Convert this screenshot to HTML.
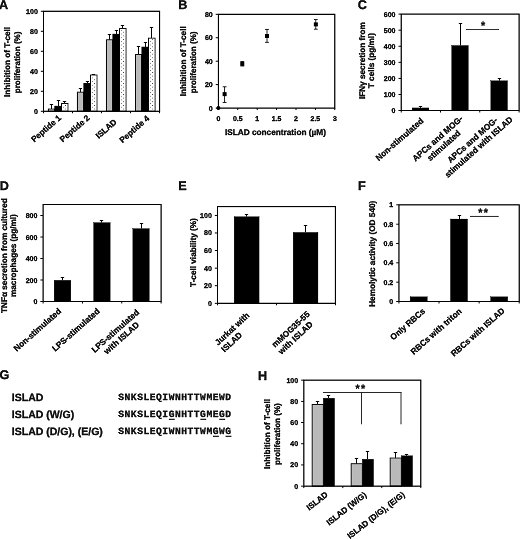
<!DOCTYPE html>
<html lang="en">
<head>
<meta charset="utf-8">
<title>Figure</title>
<style>
html,body{margin:0;padding:0;background:#fff;}
body{width:520px;height:539px;overflow:hidden;}
svg{display:block;}
svg text{font-family:"Liberation Sans",Arial,sans-serif;font-weight:bold;fill:#111;stroke:#111;stroke-width:0.35px;stroke-linejoin:round;text-rendering:geometricPrecision;}
</style>
</head>
<body>
<svg width="520" height="539" viewBox="0 0 520 539">
<defs>
<filter id="soft" x="-2%" y="-2%" width="104%" height="104%"><feConvolveMatrix order="3" kernelMatrix="0.0100 -0.1200 0.0100 -0.1200 1.4400 -0.1200 0.0100 -0.1200 0.0100" divisor="1" edgeMode="duplicate" preserveAlpha="false"/></filter>
</defs>
<rect width="520" height="539" fill="#fff"/>
<g filter="url(#soft)">
<text x="-1" y="8.8" font-size="12.6" text-anchor="start">A</text>
<line x1="51.5" y1="104" x2="51.5" y2="109" stroke="#000" stroke-width="0.9"/>
<line x1="49.8" y1="104.5" x2="53.2" y2="104.5" stroke="#000" stroke-width="0.9"/>
<rect x="48.26" y="109" width="6.58" height="2.25" fill="#b9b9b9" stroke="#000" stroke-width="0.8"/>
<line x1="58.5" y1="100" x2="58.5" y2="106.2" stroke="#000" stroke-width="0.9"/>
<line x1="56.8" y1="100.5" x2="60.2" y2="100.5" stroke="#000" stroke-width="0.9"/>
<rect x="54.84" y="106.2" width="6.58" height="5.05" fill="#000" stroke="#000" stroke-width="0.8"/>
<line x1="64.5" y1="101" x2="64.5" y2="103.3" stroke="#000" stroke-width="0.9"/>
<line x1="62.8" y1="101.5" x2="66.2" y2="101.5" stroke="#000" stroke-width="0.9"/>
<rect x="61.42" y="103.3" width="6.58" height="7.95" fill="#fff" stroke="#000" stroke-width="0.8"/>
<rect x="65.12" y="108.65" width="0.8" height="0.8" fill="#666"/>
<rect x="62.82" y="106.82" width="0.8" height="0.8" fill="#666"/>
<rect x="65.12" y="104.99" width="0.8" height="0.8" fill="#666"/>
<line x1="80.5" y1="88" x2="80.5" y2="92.1" stroke="#000" stroke-width="0.9"/>
<line x1="78.8" y1="88.5" x2="82.2" y2="88.5" stroke="#000" stroke-width="0.9"/>
<rect x="77.29" y="92.1" width="6.58" height="19.15" fill="#b9b9b9" stroke="#000" stroke-width="0.8"/>
<line x1="87.5" y1="81" x2="87.5" y2="83.5" stroke="#000" stroke-width="0.9"/>
<line x1="85.8" y1="81.5" x2="89.2" y2="81.5" stroke="#000" stroke-width="0.9"/>
<rect x="83.87" y="83.5" width="6.58" height="27.75" fill="#000" stroke="#000" stroke-width="0.8"/>
<line x1="93.5" y1="74" x2="93.5" y2="75" stroke="#000" stroke-width="0.9"/>
<line x1="91.8" y1="74.5" x2="95.2" y2="74.5" stroke="#000" stroke-width="0.9"/>
<rect x="90.45" y="75" width="6.58" height="36.25" fill="#fff" stroke="#000" stroke-width="0.8"/>
<rect x="94.15" y="108.65" width="0.8" height="0.8" fill="#666"/>
<rect x="91.85" y="106.82" width="0.8" height="0.8" fill="#666"/>
<rect x="94.15" y="104.99" width="0.8" height="0.8" fill="#666"/>
<rect x="91.85" y="103.16" width="0.8" height="0.8" fill="#666"/>
<rect x="94.15" y="101.33" width="0.8" height="0.8" fill="#666"/>
<rect x="91.85" y="99.5" width="0.8" height="0.8" fill="#666"/>
<rect x="94.15" y="97.67" width="0.8" height="0.8" fill="#666"/>
<rect x="91.85" y="95.84" width="0.8" height="0.8" fill="#666"/>
<rect x="94.15" y="94.01" width="0.8" height="0.8" fill="#666"/>
<rect x="91.85" y="92.18" width="0.8" height="0.8" fill="#666"/>
<rect x="94.15" y="90.35" width="0.8" height="0.8" fill="#666"/>
<rect x="91.85" y="88.52" width="0.8" height="0.8" fill="#666"/>
<rect x="94.15" y="86.69" width="0.8" height="0.8" fill="#666"/>
<rect x="91.85" y="84.86" width="0.8" height="0.8" fill="#666"/>
<rect x="94.15" y="83.03" width="0.8" height="0.8" fill="#666"/>
<rect x="91.85" y="81.2" width="0.8" height="0.8" fill="#666"/>
<rect x="94.15" y="79.37" width="0.8" height="0.8" fill="#666"/>
<rect x="91.85" y="77.54" width="0.8" height="0.8" fill="#666"/>
<line x1="109.5" y1="34" x2="109.5" y2="39.8" stroke="#000" stroke-width="0.9"/>
<line x1="107.8" y1="34.5" x2="111.2" y2="34.5" stroke="#000" stroke-width="0.9"/>
<rect x="106.31" y="39.8" width="6.58" height="71.45" fill="#b9b9b9" stroke="#000" stroke-width="0.8"/>
<line x1="116.5" y1="30" x2="116.5" y2="34.2" stroke="#000" stroke-width="0.9"/>
<line x1="114.8" y1="30.5" x2="118.2" y2="30.5" stroke="#000" stroke-width="0.9"/>
<rect x="112.89" y="34.2" width="6.58" height="77.05" fill="#000" stroke="#000" stroke-width="0.8"/>
<line x1="122.5" y1="25" x2="122.5" y2="28.5" stroke="#000" stroke-width="0.9"/>
<line x1="120.8" y1="25.5" x2="124.2" y2="25.5" stroke="#000" stroke-width="0.9"/>
<rect x="119.47" y="28.5" width="6.58" height="82.75" fill="#fff" stroke="#000" stroke-width="0.8"/>
<rect x="123.17" y="108.65" width="0.8" height="0.8" fill="#666"/>
<rect x="120.87" y="106.82" width="0.8" height="0.8" fill="#666"/>
<rect x="123.17" y="104.99" width="0.8" height="0.8" fill="#666"/>
<rect x="120.87" y="103.16" width="0.8" height="0.8" fill="#666"/>
<rect x="123.17" y="101.33" width="0.8" height="0.8" fill="#666"/>
<rect x="120.87" y="99.5" width="0.8" height="0.8" fill="#666"/>
<rect x="123.17" y="97.67" width="0.8" height="0.8" fill="#666"/>
<rect x="120.87" y="95.84" width="0.8" height="0.8" fill="#666"/>
<rect x="123.17" y="94.01" width="0.8" height="0.8" fill="#666"/>
<rect x="120.87" y="92.18" width="0.8" height="0.8" fill="#666"/>
<rect x="123.17" y="90.35" width="0.8" height="0.8" fill="#666"/>
<rect x="120.87" y="88.52" width="0.8" height="0.8" fill="#666"/>
<rect x="123.17" y="86.69" width="0.8" height="0.8" fill="#666"/>
<rect x="120.87" y="84.86" width="0.8" height="0.8" fill="#666"/>
<rect x="123.17" y="83.03" width="0.8" height="0.8" fill="#666"/>
<rect x="120.87" y="81.2" width="0.8" height="0.8" fill="#666"/>
<rect x="123.17" y="79.37" width="0.8" height="0.8" fill="#666"/>
<rect x="120.87" y="77.54" width="0.8" height="0.8" fill="#666"/>
<rect x="123.17" y="75.71" width="0.8" height="0.8" fill="#666"/>
<rect x="120.87" y="73.88" width="0.8" height="0.8" fill="#666"/>
<rect x="123.17" y="72.05" width="0.8" height="0.8" fill="#666"/>
<rect x="120.87" y="70.22" width="0.8" height="0.8" fill="#666"/>
<rect x="123.17" y="68.39" width="0.8" height="0.8" fill="#666"/>
<rect x="120.87" y="66.56" width="0.8" height="0.8" fill="#666"/>
<rect x="123.17" y="64.73" width="0.8" height="0.8" fill="#666"/>
<rect x="120.87" y="62.9" width="0.8" height="0.8" fill="#666"/>
<rect x="123.17" y="61.07" width="0.8" height="0.8" fill="#666"/>
<rect x="120.87" y="59.24" width="0.8" height="0.8" fill="#666"/>
<rect x="123.17" y="57.41" width="0.8" height="0.8" fill="#666"/>
<rect x="120.87" y="55.58" width="0.8" height="0.8" fill="#666"/>
<rect x="123.17" y="53.75" width="0.8" height="0.8" fill="#666"/>
<rect x="120.87" y="51.92" width="0.8" height="0.8" fill="#666"/>
<rect x="123.17" y="50.09" width="0.8" height="0.8" fill="#666"/>
<rect x="120.87" y="48.26" width="0.8" height="0.8" fill="#666"/>
<rect x="123.17" y="46.43" width="0.8" height="0.8" fill="#666"/>
<rect x="120.87" y="44.6" width="0.8" height="0.8" fill="#666"/>
<rect x="123.17" y="42.77" width="0.8" height="0.8" fill="#666"/>
<rect x="120.87" y="40.94" width="0.8" height="0.8" fill="#666"/>
<rect x="123.17" y="39.11" width="0.8" height="0.8" fill="#666"/>
<rect x="120.87" y="37.28" width="0.8" height="0.8" fill="#666"/>
<rect x="123.17" y="35.45" width="0.8" height="0.8" fill="#666"/>
<rect x="120.87" y="33.62" width="0.8" height="0.8" fill="#666"/>
<rect x="123.17" y="31.79" width="0.8" height="0.8" fill="#666"/>
<rect x="120.87" y="29.96" width="0.8" height="0.8" fill="#666"/>
<line x1="138.5" y1="46" x2="138.5" y2="54.4" stroke="#000" stroke-width="0.9"/>
<line x1="136.8" y1="46.5" x2="140.2" y2="46.5" stroke="#000" stroke-width="0.9"/>
<rect x="135.34" y="54.4" width="6.58" height="56.85" fill="#b9b9b9" stroke="#000" stroke-width="0.8"/>
<line x1="145.5" y1="42" x2="145.5" y2="47.1" stroke="#000" stroke-width="0.9"/>
<line x1="143.8" y1="42.5" x2="147.2" y2="42.5" stroke="#000" stroke-width="0.9"/>
<rect x="141.92" y="47.1" width="6.58" height="64.15" fill="#000" stroke="#000" stroke-width="0.8"/>
<line x1="151.5" y1="27" x2="151.5" y2="38.1" stroke="#000" stroke-width="0.9"/>
<line x1="149.8" y1="27.5" x2="153.2" y2="27.5" stroke="#000" stroke-width="0.9"/>
<rect x="148.5" y="38.1" width="6.58" height="73.15" fill="#fff" stroke="#000" stroke-width="0.8"/>
<rect x="152.2" y="108.65" width="0.8" height="0.8" fill="#666"/>
<rect x="149.9" y="106.82" width="0.8" height="0.8" fill="#666"/>
<rect x="152.2" y="104.99" width="0.8" height="0.8" fill="#666"/>
<rect x="149.9" y="103.16" width="0.8" height="0.8" fill="#666"/>
<rect x="152.2" y="101.33" width="0.8" height="0.8" fill="#666"/>
<rect x="149.9" y="99.5" width="0.8" height="0.8" fill="#666"/>
<rect x="152.2" y="97.67" width="0.8" height="0.8" fill="#666"/>
<rect x="149.9" y="95.84" width="0.8" height="0.8" fill="#666"/>
<rect x="152.2" y="94.01" width="0.8" height="0.8" fill="#666"/>
<rect x="149.9" y="92.18" width="0.8" height="0.8" fill="#666"/>
<rect x="152.2" y="90.35" width="0.8" height="0.8" fill="#666"/>
<rect x="149.9" y="88.52" width="0.8" height="0.8" fill="#666"/>
<rect x="152.2" y="86.69" width="0.8" height="0.8" fill="#666"/>
<rect x="149.9" y="84.86" width="0.8" height="0.8" fill="#666"/>
<rect x="152.2" y="83.03" width="0.8" height="0.8" fill="#666"/>
<rect x="149.9" y="81.2" width="0.8" height="0.8" fill="#666"/>
<rect x="152.2" y="79.37" width="0.8" height="0.8" fill="#666"/>
<rect x="149.9" y="77.54" width="0.8" height="0.8" fill="#666"/>
<rect x="152.2" y="75.71" width="0.8" height="0.8" fill="#666"/>
<rect x="149.9" y="73.88" width="0.8" height="0.8" fill="#666"/>
<rect x="152.2" y="72.05" width="0.8" height="0.8" fill="#666"/>
<rect x="149.9" y="70.22" width="0.8" height="0.8" fill="#666"/>
<rect x="152.2" y="68.39" width="0.8" height="0.8" fill="#666"/>
<rect x="149.9" y="66.56" width="0.8" height="0.8" fill="#666"/>
<rect x="152.2" y="64.73" width="0.8" height="0.8" fill="#666"/>
<rect x="149.9" y="62.9" width="0.8" height="0.8" fill="#666"/>
<rect x="152.2" y="61.07" width="0.8" height="0.8" fill="#666"/>
<rect x="149.9" y="59.24" width="0.8" height="0.8" fill="#666"/>
<rect x="152.2" y="57.41" width="0.8" height="0.8" fill="#666"/>
<rect x="149.9" y="55.58" width="0.8" height="0.8" fill="#666"/>
<rect x="152.2" y="53.75" width="0.8" height="0.8" fill="#666"/>
<rect x="149.9" y="51.92" width="0.8" height="0.8" fill="#666"/>
<rect x="152.2" y="50.09" width="0.8" height="0.8" fill="#666"/>
<rect x="149.9" y="48.26" width="0.8" height="0.8" fill="#666"/>
<rect x="152.2" y="46.43" width="0.8" height="0.8" fill="#666"/>
<rect x="149.9" y="44.6" width="0.8" height="0.8" fill="#666"/>
<rect x="152.2" y="42.77" width="0.8" height="0.8" fill="#666"/>
<rect x="149.9" y="40.94" width="0.8" height="0.8" fill="#666"/>
<rect x="152.2" y="39.11" width="0.8" height="0.8" fill="#666"/>
<rect x="43.5" y="11.25" width="116.1" height="100" fill="none" stroke="#000" stroke-width="1.15"/>
<line x1="40.8" y1="111.25" x2="43.5" y2="111.25" stroke="#000" stroke-width="0.9"/>
<text x="37.8" y="113.76" font-size="7" text-anchor="end">0</text>
<line x1="40.8" y1="91.25" x2="43.5" y2="91.25" stroke="#000" stroke-width="0.9"/>
<text x="37.8" y="93.76" font-size="7" text-anchor="end">20</text>
<line x1="40.8" y1="71.25" x2="43.5" y2="71.25" stroke="#000" stroke-width="0.9"/>
<text x="37.8" y="73.76" font-size="7" text-anchor="end">40</text>
<line x1="40.8" y1="51.25" x2="43.5" y2="51.25" stroke="#000" stroke-width="0.9"/>
<text x="37.8" y="53.76" font-size="7" text-anchor="end">60</text>
<line x1="40.8" y1="31.25" x2="43.5" y2="31.25" stroke="#000" stroke-width="0.9"/>
<text x="37.8" y="33.76" font-size="7" text-anchor="end">80</text>
<line x1="40.8" y1="11.25" x2="43.5" y2="11.25" stroke="#000" stroke-width="0.9"/>
<text x="37.8" y="13.76" font-size="7" text-anchor="end">100</text>
<line x1="43.5" y1="111.25" x2="43.5" y2="113.25" stroke="#000" stroke-width="0.9"/>
<line x1="72.53" y1="111.25" x2="72.53" y2="113.25" stroke="#000" stroke-width="0.9"/>
<line x1="101.55" y1="111.25" x2="101.55" y2="113.25" stroke="#000" stroke-width="0.9"/>
<line x1="130.57" y1="111.25" x2="130.57" y2="113.25" stroke="#000" stroke-width="0.9"/>
<line x1="159.6" y1="111.25" x2="159.6" y2="113.25" stroke="#000" stroke-width="0.9"/>
<text x="10.4" y="61.9" font-size="8.2" text-anchor="middle" transform="rotate(-90 10.4 61.9)">Inhibition of T-cell</text>
<text x="20" y="62.4" font-size="8.05" text-anchor="middle" transform="rotate(-90 20 62.4)">proliferation (%)</text>
<text x="47.91" y="130.6" font-size="8.2" text-anchor="middle" transform="rotate(-41 47.91 130.6)">Peptide 1</text>
<text x="76.54" y="130.6" font-size="8.2" text-anchor="middle" transform="rotate(-41 76.54 130.6)">Peptide 2</text>
<text x="107.96" y="130.9" font-size="8.2" text-anchor="middle" transform="rotate(-41 107.96 130.9)">ISLAD</text>
<text x="136.19" y="131.3" font-size="8.2" text-anchor="middle" transform="rotate(-41 136.19 131.3)">Peptide 4</text>
<text x="178.35" y="8.9" font-size="12.6" text-anchor="start">B</text>
<rect x="218.4" y="14.3" width="116.4" height="93.8" fill="none" stroke="#000" stroke-width="1.15"/>
<line x1="215.7" y1="108.1" x2="218.4" y2="108.1" stroke="#000" stroke-width="0.9"/>
<text x="212.7" y="110.61" font-size="7" text-anchor="end">0</text>
<line x1="215.7" y1="84.65" x2="218.4" y2="84.65" stroke="#000" stroke-width="0.9"/>
<text x="212.7" y="87.16" font-size="7" text-anchor="end">20</text>
<line x1="215.7" y1="61.2" x2="218.4" y2="61.2" stroke="#000" stroke-width="0.9"/>
<text x="212.7" y="63.71" font-size="7" text-anchor="end">40</text>
<line x1="215.7" y1="37.75" x2="218.4" y2="37.75" stroke="#000" stroke-width="0.9"/>
<text x="212.7" y="40.26" font-size="7" text-anchor="end">60</text>
<line x1="215.7" y1="14.3" x2="218.4" y2="14.3" stroke="#000" stroke-width="0.9"/>
<text x="212.7" y="16.81" font-size="7" text-anchor="end">80</text>
<line x1="218.4" y1="108.1" x2="218.4" y2="110.1" stroke="#000" stroke-width="0.9"/>
<line x1="237.8" y1="108.1" x2="237.8" y2="110.1" stroke="#000" stroke-width="0.9"/>
<line x1="257.2" y1="108.1" x2="257.2" y2="110.1" stroke="#000" stroke-width="0.9"/>
<line x1="276.6" y1="108.1" x2="276.6" y2="110.1" stroke="#000" stroke-width="0.9"/>
<line x1="296" y1="108.1" x2="296" y2="110.1" stroke="#000" stroke-width="0.9"/>
<line x1="315.4" y1="108.1" x2="315.4" y2="110.1" stroke="#000" stroke-width="0.9"/>
<line x1="334.8" y1="108.1" x2="334.8" y2="110.1" stroke="#000" stroke-width="0.9"/>
<text x="218.4" y="121.1" font-size="6.9" text-anchor="middle">0</text>
<text x="237.8" y="121.1" font-size="6.9" text-anchor="middle">0.5</text>
<text x="257.2" y="121.1" font-size="6.9" text-anchor="middle">1</text>
<text x="276.6" y="121.1" font-size="6.9" text-anchor="middle">1.5</text>
<text x="296" y="121.1" font-size="6.9" text-anchor="middle">2</text>
<text x="315.4" y="121.1" font-size="6.9" text-anchor="middle">2.5</text>
<text x="334.8" y="121.1" font-size="6.9" text-anchor="middle">3</text>
<text x="275.4" y="135.2" font-size="8.25" text-anchor="middle">ISLAD concentration (µM)</text>
<text x="186.2" y="61.3" font-size="8.2" text-anchor="middle" transform="rotate(-90 186.2 61.3)">Inhibition of T-cell</text>
<text x="196.2" y="62.3" font-size="8.05" text-anchor="middle" transform="rotate(-90 196.2 62.3)">proliferation (%)</text>
<line x1="224.6" y1="86.8" x2="224.6" y2="102.4" stroke="#000" stroke-width="0.8"/>
<line x1="222.7" y1="86.8" x2="226.5" y2="86.8" stroke="#000" stroke-width="0.8"/>
<line x1="222.7" y1="102.4" x2="226.5" y2="102.4" stroke="#000" stroke-width="0.8"/>
<rect x="222.6" y="92.2" width="4" height="4" fill="#000"/>
<line x1="242.3" y1="61.6" x2="242.3" y2="66" stroke="#000" stroke-width="0.8"/>
<line x1="240.4" y1="61.6" x2="244.2" y2="61.6" stroke="#000" stroke-width="0.8"/>
<line x1="240.4" y1="66" x2="244.2" y2="66" stroke="#000" stroke-width="0.8"/>
<rect x="240.3" y="61.8" width="4" height="4" fill="#000"/>
<line x1="267" y1="29.4" x2="267" y2="42.3" stroke="#000" stroke-width="0.8"/>
<line x1="265.1" y1="29.4" x2="268.9" y2="29.4" stroke="#000" stroke-width="0.8"/>
<line x1="265.1" y1="42.3" x2="268.9" y2="42.3" stroke="#000" stroke-width="0.8"/>
<rect x="265" y="34" width="4" height="4" fill="#000"/>
<line x1="315.8" y1="19.6" x2="315.8" y2="29.2" stroke="#000" stroke-width="0.8"/>
<line x1="313.9" y1="19.6" x2="317.7" y2="19.6" stroke="#000" stroke-width="0.8"/>
<line x1="313.9" y1="29.2" x2="317.7" y2="29.2" stroke="#000" stroke-width="0.8"/>
<rect x="313.8" y="22.4" width="4" height="4" fill="#000"/>
<circle cx="218.4" cy="108.1" r="2" fill="#000"/>
<text x="357.7" y="8.9" font-size="12.6" text-anchor="start">C</text>
<line x1="420.5" y1="106" x2="420.5" y2="107.9" stroke="#000" stroke-width="0.9"/>
<line x1="418.8" y1="106.5" x2="422.2" y2="106.5" stroke="#000" stroke-width="0.9"/>
<rect x="412.2" y="107.9" width="16.7" height="2.6" fill="#000" stroke="#000" stroke-width="0.3"/>
<line x1="460.5" y1="23" x2="460.5" y2="45.5" stroke="#000" stroke-width="0.9"/>
<line x1="458.8" y1="23.5" x2="462.2" y2="23.5" stroke="#000" stroke-width="0.9"/>
<rect x="451.65" y="45.5" width="16.7" height="65" fill="#000" stroke="#000" stroke-width="0.3"/>
<line x1="499.5" y1="78" x2="499.5" y2="80.75" stroke="#000" stroke-width="0.9"/>
<line x1="497.8" y1="78.5" x2="501.2" y2="78.5" stroke="#000" stroke-width="0.9"/>
<rect x="490.75" y="80.75" width="16.75" height="29.75" fill="#000" stroke="#000" stroke-width="0.3"/>
<rect x="401.2" y="14.1" width="117.9" height="96.4" fill="none" stroke="#000" stroke-width="1.15"/>
<line x1="398.5" y1="110.5" x2="401.2" y2="110.5" stroke="#000" stroke-width="0.9"/>
<text x="395.5" y="113.01" font-size="7" text-anchor="end">0</text>
<line x1="398.5" y1="94.43" x2="401.2" y2="94.43" stroke="#000" stroke-width="0.9"/>
<text x="395.5" y="96.94" font-size="7" text-anchor="end">100</text>
<line x1="398.5" y1="78.37" x2="401.2" y2="78.37" stroke="#000" stroke-width="0.9"/>
<text x="395.5" y="80.87" font-size="7" text-anchor="end">200</text>
<line x1="398.5" y1="62.3" x2="401.2" y2="62.3" stroke="#000" stroke-width="0.9"/>
<text x="395.5" y="64.8" font-size="7" text-anchor="end">300</text>
<line x1="398.5" y1="46.23" x2="401.2" y2="46.23" stroke="#000" stroke-width="0.9"/>
<text x="395.5" y="48.74" font-size="7" text-anchor="end">400</text>
<line x1="398.5" y1="30.16" x2="401.2" y2="30.16" stroke="#000" stroke-width="0.9"/>
<text x="395.5" y="32.67" font-size="7" text-anchor="end">500</text>
<line x1="398.5" y1="14.1" x2="401.2" y2="14.1" stroke="#000" stroke-width="0.9"/>
<text x="395.5" y="16.6" font-size="7" text-anchor="end">600</text>
<line x1="401.2" y1="110.5" x2="401.2" y2="112.5" stroke="#000" stroke-width="0.9"/>
<line x1="440.5" y1="110.5" x2="440.5" y2="112.5" stroke="#000" stroke-width="0.9"/>
<line x1="479.8" y1="110.5" x2="479.8" y2="112.5" stroke="#000" stroke-width="0.9"/>
<line x1="519.1" y1="110.5" x2="519.1" y2="112.5" stroke="#000" stroke-width="0.9"/>
<line x1="466" y1="29.45" x2="499" y2="29.45" stroke="#222" stroke-width="0.85"/>
<text x="483" y="28.5" font-size="10.6" text-anchor="middle">*</text>
<text x="365.1" y="60.65" font-size="8.2" text-anchor="middle" transform="rotate(-90 365.1 60.65)">IFNγ secretion from</text>
<text x="374.45" y="60.65" font-size="8.2" text-anchor="middle" transform="rotate(-90 374.45 60.65)">T cells (pg/ml)</text>
<text x="424" y="121.8" font-size="8.25" text-anchor="end" transform="rotate(-41 424 121.8)">Non-stimulated</text>
<g transform="rotate(-41.5 442.6 144.1)">
<text x="442.6" y="139.4" font-size="8.25" text-anchor="middle">APCs and MOG-</text>
<text x="442.6" y="148.8" font-size="8.25" text-anchor="middle">stimulated</text>
</g>
<g transform="rotate(-41.5 477.4 145.6)">
<text x="477.4" y="140.9" font-size="8.25" text-anchor="middle">APCs and MOG-</text>
<text x="477.4" y="150.3" font-size="8.25" text-anchor="middle">stimulated with ISLAD</text>
</g>
<text x="-0.3" y="189.6" font-size="12.6" text-anchor="start">D</text>
<line x1="62.5" y1="277" x2="62.5" y2="280.3" stroke="#000" stroke-width="0.9"/>
<line x1="60.8" y1="277.5" x2="64.2" y2="277.5" stroke="#000" stroke-width="0.9"/>
<rect x="54.2" y="280.3" width="16.6" height="21.2" fill="#000" stroke="#000" stroke-width="0.3"/>
<line x1="101.5" y1="220" x2="101.5" y2="222.6" stroke="#000" stroke-width="0.9"/>
<line x1="99.8" y1="220.5" x2="103.2" y2="220.5" stroke="#000" stroke-width="0.9"/>
<rect x="93.6" y="222.6" width="16.6" height="78.9" fill="#000" stroke="#000" stroke-width="0.3"/>
<line x1="141.5" y1="223" x2="141.5" y2="228.6" stroke="#000" stroke-width="0.9"/>
<line x1="139.8" y1="223.5" x2="143.2" y2="223.5" stroke="#000" stroke-width="0.9"/>
<rect x="132.8" y="228.6" width="16.5" height="72.9" fill="#000" stroke="#000" stroke-width="0.3"/>
<rect x="43.1" y="204.5" width="118" height="97" fill="none" stroke="#000" stroke-width="1.15"/>
<line x1="40.4" y1="301.5" x2="43.1" y2="301.5" stroke="#000" stroke-width="0.9"/>
<text x="37.4" y="304.01" font-size="7" text-anchor="end">0</text>
<line x1="40.4" y1="280" x2="43.1" y2="280" stroke="#000" stroke-width="0.9"/>
<text x="37.4" y="282.51" font-size="7" text-anchor="end">200</text>
<line x1="40.4" y1="258.5" x2="43.1" y2="258.5" stroke="#000" stroke-width="0.9"/>
<text x="37.4" y="261.01" font-size="7" text-anchor="end">400</text>
<line x1="40.4" y1="237" x2="43.1" y2="237" stroke="#000" stroke-width="0.9"/>
<text x="37.4" y="239.51" font-size="7" text-anchor="end">600</text>
<line x1="40.4" y1="215.5" x2="43.1" y2="215.5" stroke="#000" stroke-width="0.9"/>
<text x="37.4" y="218.01" font-size="7" text-anchor="end">800</text>
<line x1="43.1" y1="301.5" x2="43.1" y2="303.5" stroke="#000" stroke-width="0.9"/>
<line x1="82.43" y1="301.5" x2="82.43" y2="303.5" stroke="#000" stroke-width="0.9"/>
<line x1="121.77" y1="301.5" x2="121.77" y2="303.5" stroke="#000" stroke-width="0.9"/>
<line x1="161.1" y1="301.5" x2="161.1" y2="303.5" stroke="#000" stroke-width="0.9"/>
<text x="7" y="255.6" font-size="8.2" text-anchor="middle" transform="rotate(-90 7 255.6)">TNFα secretion from cultured</text>
<text x="16.4" y="255.6" font-size="8.2" text-anchor="middle" transform="rotate(-90 16.4 255.6)">macrophages (pg/ml)</text>
<text x="61.8" y="312" font-size="8.25" text-anchor="end" transform="rotate(-41.5 61.8 312)">Non-stimulated</text>
<text x="100.3" y="312" font-size="8.25" text-anchor="end" transform="rotate(-41.5 100.3 312)">LPS-stimulated</text>
<g transform="rotate(-41.5 120.3 336.5)">
<text x="120.3" y="331.8" font-size="8.25" text-anchor="middle">LPS-stimulated</text>
<text x="120.3" y="341.2" font-size="8.25" text-anchor="middle">with ISLAD</text>
</g>
<text x="178.3" y="189.5" font-size="12.6" text-anchor="start">E</text>
<line x1="246.5" y1="214" x2="246.5" y2="216.7" stroke="#000" stroke-width="0.9"/>
<line x1="244.8" y1="214.5" x2="248.2" y2="214.5" stroke="#000" stroke-width="0.9"/>
<rect x="234.2" y="216.7" width="24.9" height="86.6" fill="#000" stroke="#000" stroke-width="0.3"/>
<line x1="305.5" y1="225" x2="305.5" y2="232.4" stroke="#000" stroke-width="0.9"/>
<line x1="303.8" y1="225.5" x2="307.2" y2="225.5" stroke="#000" stroke-width="0.9"/>
<rect x="293.2" y="232.4" width="24.8" height="70.9" fill="#000" stroke="#000" stroke-width="0.3"/>
<rect x="217.5" y="206.6" width="117.9" height="96.7" fill="none" stroke="#000" stroke-width="1.15"/>
<line x1="214.8" y1="303.3" x2="217.5" y2="303.3" stroke="#000" stroke-width="0.9"/>
<text x="211.8" y="305.81" font-size="7" text-anchor="end">0</text>
<line x1="214.8" y1="285.72" x2="217.5" y2="285.72" stroke="#000" stroke-width="0.9"/>
<text x="211.8" y="288.23" font-size="7" text-anchor="end">20</text>
<line x1="214.8" y1="268.14" x2="217.5" y2="268.14" stroke="#000" stroke-width="0.9"/>
<text x="211.8" y="270.65" font-size="7" text-anchor="end">40</text>
<line x1="214.8" y1="250.56" x2="217.5" y2="250.56" stroke="#000" stroke-width="0.9"/>
<text x="211.8" y="253.07" font-size="7" text-anchor="end">60</text>
<line x1="214.8" y1="232.98" x2="217.5" y2="232.98" stroke="#000" stroke-width="0.9"/>
<text x="211.8" y="235.49" font-size="7" text-anchor="end">80</text>
<line x1="214.8" y1="215.4" x2="217.5" y2="215.4" stroke="#000" stroke-width="0.9"/>
<text x="211.8" y="217.91" font-size="7" text-anchor="end">100</text>
<line x1="217.5" y1="303.3" x2="217.5" y2="305.3" stroke="#000" stroke-width="0.9"/>
<line x1="276.45" y1="303.3" x2="276.45" y2="305.3" stroke="#000" stroke-width="0.9"/>
<line x1="335.4" y1="303.3" x2="335.4" y2="305.3" stroke="#000" stroke-width="0.9"/>
<text x="195.7" y="252.55" font-size="8.2" text-anchor="middle" transform="rotate(-90 195.7 252.55)">T-cell viability (%)</text>
<g transform="rotate(-43 237.3 334.3)">
<text x="215.5" y="329.6" font-size="8.25" text-anchor="start">Jurkat with</text>
<text x="215.5" y="339" font-size="8.25" text-anchor="start">ISLAD</text>
</g>
<g transform="rotate(-43 294 336.6)">
<text x="272.5" y="331.9" font-size="8.25" text-anchor="start">mMOG35-55</text>
<text x="272.5" y="341.3" font-size="8.25" text-anchor="start">with ISLAD</text>
</g>
<text x="357.9" y="189.6" font-size="12.6" text-anchor="start">F</text>
<rect x="410.2" y="296.8" width="17.1" height="4.7" fill="#000" stroke="#000" stroke-width="0.3"/>
<line x1="459.5" y1="215" x2="459.5" y2="219" stroke="#000" stroke-width="0.9"/>
<line x1="457.8" y1="215.5" x2="461.2" y2="215.5" stroke="#000" stroke-width="0.9"/>
<rect x="450.45" y="219" width="17.1" height="82.5" fill="#000" stroke="#000" stroke-width="0.3"/>
<rect x="490.6" y="296.8" width="17.1" height="4.7" fill="#000" stroke="#000" stroke-width="0.3"/>
<rect x="398.95" y="204.85" width="120.25" height="96.65" fill="none" stroke="#000" stroke-width="1.15"/>
<line x1="396.25" y1="301.5" x2="398.95" y2="301.5" stroke="#000" stroke-width="0.9"/>
<text x="393.25" y="304.01" font-size="7" text-anchor="end">0</text>
<line x1="396.25" y1="282.17" x2="398.95" y2="282.17" stroke="#000" stroke-width="0.9"/>
<text x="393.25" y="284.68" font-size="7" text-anchor="end">0.2</text>
<line x1="396.25" y1="262.84" x2="398.95" y2="262.84" stroke="#000" stroke-width="0.9"/>
<text x="393.25" y="265.35" font-size="7" text-anchor="end">0.4</text>
<line x1="396.25" y1="243.51" x2="398.95" y2="243.51" stroke="#000" stroke-width="0.9"/>
<text x="393.25" y="246.02" font-size="7" text-anchor="end">0.6</text>
<line x1="396.25" y1="224.18" x2="398.95" y2="224.18" stroke="#000" stroke-width="0.9"/>
<text x="393.25" y="226.69" font-size="7" text-anchor="end">0.8</text>
<line x1="396.25" y1="204.85" x2="398.95" y2="204.85" stroke="#000" stroke-width="0.9"/>
<text x="393.25" y="207.36" font-size="7" text-anchor="end">1</text>
<line x1="398.95" y1="301.5" x2="398.95" y2="303.5" stroke="#000" stroke-width="0.9"/>
<line x1="439.03" y1="301.5" x2="439.03" y2="303.5" stroke="#000" stroke-width="0.9"/>
<line x1="479.12" y1="301.5" x2="479.12" y2="303.5" stroke="#000" stroke-width="0.9"/>
<line x1="519.2" y1="301.5" x2="519.2" y2="303.5" stroke="#000" stroke-width="0.9"/>
<line x1="470" y1="216.4" x2="498.7" y2="216.4" stroke="#222" stroke-width="0.9"/>
<text x="483.7" y="215.8" font-size="10.6" text-anchor="middle" letter-spacing="1.4">**</text>
<text x="375.4" y="253.75" font-size="8.24" text-anchor="middle" transform="rotate(-90 375.4 253.75)">Hemolytic activity (OD 540)</text>
<text x="425.6" y="312" font-size="8.25" text-anchor="end" transform="rotate(-41.5 425.6 312)">Only RBCs</text>
<text x="462.2" y="312.1" font-size="8.25" text-anchor="end" transform="rotate(-41.5 462.2 312.1)">RBCs with triton</text>
<text x="505.2" y="311.6" font-size="8.25" text-anchor="end" transform="rotate(-41.5 505.2 311.6)">RBCs with ISLAD</text>
<text x="-0.5" y="379.3" font-size="12.6" text-anchor="start">G</text>
<text x="11.8" y="400.75" font-size="10.5" text-anchor="start">ISLAD</text>
<text x="11.8" y="417.5" font-size="10.5" text-anchor="start">ISLAD (W/G)</text>
<text x="11.8" y="434.5" font-size="10.5" text-anchor="start">ISLAD (D/G), (E/G)</text>
<text x="118.25" y="400" font-size="9.6" text-anchor="start" style='font-family:"Liberation Mono", monospace' letter-spacing="0.54">SNKSLEQIWNHTTWMEWD</text>
<text x="118.25" y="416.75" font-size="9.6" text-anchor="start" style='font-family:"Liberation Mono", monospace' letter-spacing="0.54">SNKSLEQIGNHTTGMEGD</text>
<text x="118.25" y="433.75" font-size="9.6" text-anchor="start" style='font-family:"Liberation Mono", monospace' letter-spacing="0.54">SNKSLEQIWNHTTWMGWG</text>
<line x1="168.85" y1="419.25" x2="174.75" y2="419.25" stroke="#000" stroke-width="1.0"/>
<line x1="200.35" y1="419.25" x2="206.25" y2="419.25" stroke="#000" stroke-width="1.0"/>
<line x1="219.25" y1="419.25" x2="225.15" y2="419.25" stroke="#000" stroke-width="1.0"/>
<line x1="212.95" y1="436.25" x2="218.85" y2="436.25" stroke="#000" stroke-width="1.0"/>
<line x1="225.55" y1="436.25" x2="231.45" y2="436.25" stroke="#000" stroke-width="1.0"/>
<text x="258.1" y="379.6" font-size="12.6" text-anchor="start">H</text>
<line x1="317.5" y1="401" x2="317.5" y2="404.5" stroke="#000" stroke-width="0.9"/>
<line x1="315.8" y1="401.5" x2="319.2" y2="401.5" stroke="#000" stroke-width="0.9"/>
<line x1="328.5" y1="395" x2="328.5" y2="398.25" stroke="#000" stroke-width="0.9"/>
<line x1="326.8" y1="395.5" x2="330.2" y2="395.5" stroke="#000" stroke-width="0.9"/>
<rect x="312.1" y="404.5" width="11.2" height="81.65" fill="#b9b9b9" stroke="#000" stroke-width="0.8"/>
<rect x="323.3" y="398.25" width="11.3" height="87.9" fill="#000" stroke="#000" stroke-width="0.3"/>
<line x1="356.5" y1="458" x2="356.5" y2="463.75" stroke="#000" stroke-width="0.9"/>
<line x1="354.8" y1="458.5" x2="358.2" y2="458.5" stroke="#000" stroke-width="0.9"/>
<line x1="367.5" y1="451" x2="367.5" y2="459.25" stroke="#000" stroke-width="0.9"/>
<line x1="365.8" y1="451.5" x2="369.2" y2="451.5" stroke="#000" stroke-width="0.9"/>
<rect x="351.1" y="463.75" width="11.2" height="22.4" fill="#b9b9b9" stroke="#000" stroke-width="0.8"/>
<rect x="362.3" y="459.25" width="11.3" height="26.9" fill="#000" stroke="#000" stroke-width="0.3"/>
<line x1="395.5" y1="452" x2="395.5" y2="458" stroke="#000" stroke-width="0.9"/>
<line x1="393.8" y1="452.5" x2="397.2" y2="452.5" stroke="#000" stroke-width="0.9"/>
<line x1="406.5" y1="454" x2="406.5" y2="455.75" stroke="#000" stroke-width="0.9"/>
<line x1="404.8" y1="454.5" x2="408.2" y2="454.5" stroke="#000" stroke-width="0.9"/>
<rect x="390.1" y="458" width="11.2" height="28.15" fill="#b9b9b9" stroke="#000" stroke-width="0.8"/>
<rect x="401.3" y="455.75" width="11.3" height="30.4" fill="#000" stroke="#000" stroke-width="0.3"/>
<rect x="303.85" y="380.15" width="116.95" height="106" fill="none" stroke="#000" stroke-width="1.15"/>
<line x1="301.15" y1="486.15" x2="303.85" y2="486.15" stroke="#000" stroke-width="0.9"/>
<text x="298.15" y="488.66" font-size="7" text-anchor="end">0</text>
<line x1="301.15" y1="464.95" x2="303.85" y2="464.95" stroke="#000" stroke-width="0.9"/>
<text x="298.15" y="467.46" font-size="7" text-anchor="end">20</text>
<line x1="301.15" y1="443.75" x2="303.85" y2="443.75" stroke="#000" stroke-width="0.9"/>
<text x="298.15" y="446.26" font-size="7" text-anchor="end">40</text>
<line x1="301.15" y1="422.55" x2="303.85" y2="422.55" stroke="#000" stroke-width="0.9"/>
<text x="298.15" y="425.06" font-size="7" text-anchor="end">60</text>
<line x1="301.15" y1="401.35" x2="303.85" y2="401.35" stroke="#000" stroke-width="0.9"/>
<text x="298.15" y="403.86" font-size="7" text-anchor="end">80</text>
<line x1="301.15" y1="380.15" x2="303.85" y2="380.15" stroke="#000" stroke-width="0.9"/>
<text x="298.15" y="382.66" font-size="7" text-anchor="end">100</text>
<line x1="303.85" y1="486.15" x2="303.85" y2="488.15" stroke="#000" stroke-width="0.9"/>
<line x1="342.83" y1="486.15" x2="342.83" y2="488.15" stroke="#000" stroke-width="0.9"/>
<line x1="381.82" y1="486.15" x2="381.82" y2="488.15" stroke="#000" stroke-width="0.9"/>
<line x1="420.8" y1="486.15" x2="420.8" y2="488.15" stroke="#000" stroke-width="0.9"/>
<line x1="322.9" y1="392.5" x2="401.5" y2="392.5" stroke="#222" stroke-width="0.9"/>
<line x1="361.5" y1="392.5" x2="361.5" y2="424.3" stroke="#222" stroke-width="0.9"/>
<line x1="401" y1="392.5" x2="401" y2="424.3" stroke="#222" stroke-width="0.9"/>
<text x="360.9" y="392.1" font-size="10.6" text-anchor="middle" letter-spacing="1.4">**</text>
<text x="270" y="434.05" font-size="8.2" text-anchor="middle" transform="rotate(-90 270 434.05)">Inhibition of T-cell</text>
<text x="279.6" y="434.05" font-size="8.05" text-anchor="middle" transform="rotate(-90 279.6 434.05)">proliferation (%)</text>
<text x="328.5" y="495.7" font-size="8.15" text-anchor="end" transform="rotate(-38 328.5 495.7)">ISLAD</text>
<text x="367.2" y="495.9" font-size="8.15" text-anchor="end" transform="rotate(-38 367.2 495.9)">ISLAD (W/G)</text>
<text x="405.5" y="495.7" font-size="8.15" text-anchor="end" transform="rotate(-38 405.5 495.7)">ISLAD (D/G), (E/G)</text>
</g>
</svg>
</body>
</html>
